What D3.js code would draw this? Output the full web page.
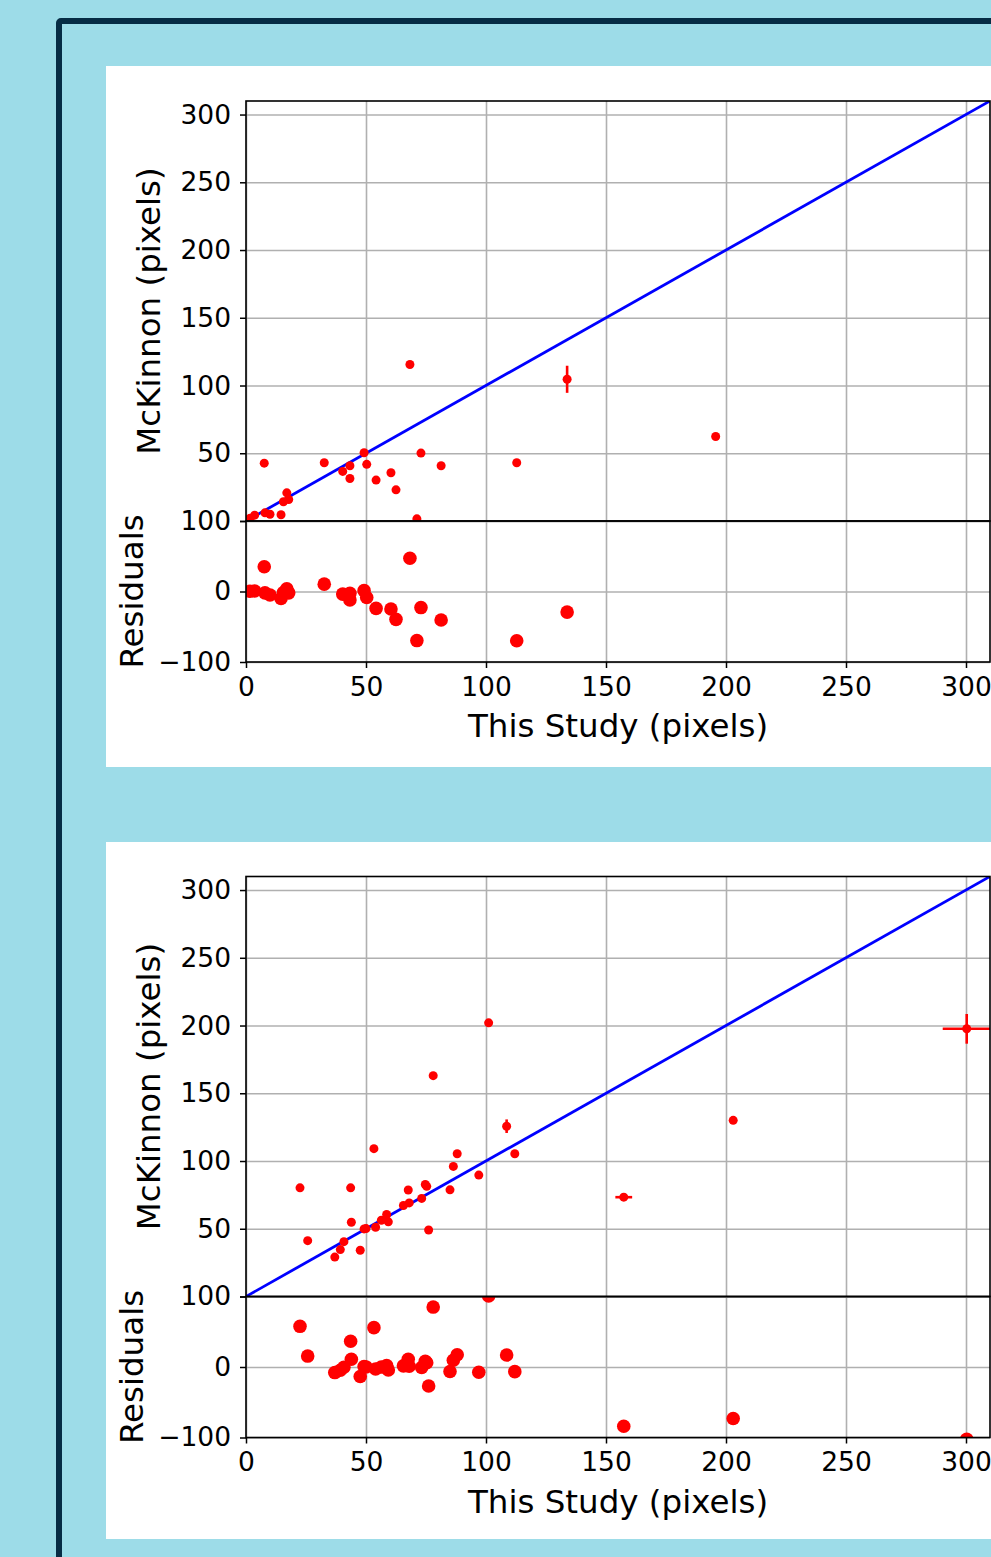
<!DOCTYPE html>
<html>
<head>
<meta charset="utf-8">
<script src="https://cdn.jsdelivr.net/npm/d3@7"></script>
<style>
  body { margin: 0; background: #9ddce8; }
  svg { display: block; font-family: 'DejaVu Sans', sans-serif; }
  .tick text { font-family: 'DejaVu Sans', sans-serif; font-size: 26.5px; fill: #000; }
  .tick line { stroke: #000; stroke-width: 1.5; }
  .grid .tick line { stroke: #b0b0b0; stroke-width: 1.6; }
  .axis-label { font-size: 32.5px; fill: #000; }
</style>
</head>
<body>
<div class="wrapper"></div>
<script>
// top panel: this study vs McKinnon
const x1 = [1.7, 3.6, 7.6, 7.9, 10, 14.6, 15.6, 17, 17.8, 32.6, 40.3, 43.3, 43.3, 49.2, 50.3, 54.2, 60.4, 62.5, 68.3, 71.2, 72.9, 81.3, 112.8, 133.8, 195.7]
const y1 = [2, 4.3, 42.7, 6, 5, 4.6, 14.2, 20.8, 15.9, 43, 36.6, 40.8, 31.4, 50.4, 41.8, 30.2, 35.6, 23, 115.5, 1.6, 50.1, 40.8, 43, 104.6, 62.4]
const res1 = [0.3, 0.7, 35.1, -1.9, -5, -10, -1.4, 3.8, -1.9, 10.4, -3.7, -2.5, -11.9, 1.2, -8.5, -24, -24.8, -39.5, 47.2, -69.6, -22.8, -40.5, -69.8, -29.2, -133.3]
const xerr1 = [0, 0, 0, 0, 0, 0, 0, 0, 0, 0, 0, 0, 0, 0, 0, 0, 0, 0, 0, 0, 0, 0, 0, 0, 0]
const yerr1 = [0, 0, 0, 0, 0, 0, 0, 0, 0, 0, 0, 0, 0, 0, 0, 0, 0, 0, 0, 0, 0, 0, 0, 10, 0]

// bottom panel
const x2 = [22.5, 25.7, 37, 39.3, 40.8, 43.6, 43.9, 47.6, 49.2, 50, 53.3, 54, 56.4, 58.6, 59.3, 65.6, 67.6, 68, 73.2, 74.7, 75.3, 76.1, 78, 85, 86.4, 88, 97, 101.1, 108.6, 112, 157.4, 203, 300.3]
const y2 = [80.2, 41.2, 29.1, 34.6, 40.5, 80.2, 54.8, 34.1, 49.9, 50.1, 109.1, 51.1, 56.3, 60.5, 55.1, 67.2, 78.6, 69.1, 72.4, 82.7, 81.3, 49.1, 163, 78.7, 96, 105.4, 89.6, 202, 125.7, 105.4, 73.3, 130, 197.6]
const res2 = [57.7, 15.5, -7.9, -4.7, -0.3, 36.6, 10.9, -13.5, 0.7, 0.1, 55.8, -2.9, -0.1, 1.9, -4.2, 1.6, 11, 1.1, -0.8, 8, 6, -27, 85, -6.3, 9.6, 17.4, -7.4, 100.9, 17.1, -6.6, -84.1, -73, -102.7]
const xerr2 = [0, 0, 0, 0, 0, 0, 0, 0, 0, 0, 0, 0, 0, 0, 0, 0, 0, 0, 0, 0, 0, 0, 0, 0, 0, 0, 0, 0, 0, 0, 3.5, 0, 10]
const yerr2 = [0, 0, 0, 0, 0, 0, 0, 0, 0, 0, 0, 0, 0, 0, 0, 0, 0, 0, 0, 0, 0, 0, 0, 0, 0, 0, 0, 0, 5, 0, 0, 0, 11]

const xTicks = [0, 50, 100, 150, 200, 250, 300]
const yTicks = [0, 50, 100, 150, 200, 250, 300]
const resTicks = [-100, 0, 100]
const oneToOne = [0, 310]

const W = 991, H = 1557

const svg = d3.select('.wrapper')
  .append('svg')
  .attr('width', W)
  .attr('height', H)

// background frame
svg.append('rect')
  .attr('width', W).attr('height', H)
  .attr('fill', '#9ddce8')
svg.append('rect')
  .attr('x', 59).attr('y', 21)
  .attr('width', W + 20).attr('height', H + 20)
  .attr('rx', 2)
  .attr('fill', 'none')
  .attr('stroke', '#062c44')
  .attr('stroke-width', 6)

const panels = [
  { top: 66, bottom: 767, axTop: 101, xs: x1, ys: y1, res: res1, xe: xerr1, ye: yerr1 },
  { top: 842, bottom: 1539, axTop: 876.5, xs: x2, ys: y2, res: res2, xe: xerr2, ye: yerr2 },
]

panels.forEach((p, i) => drawPanel(p, i))

function drawPanel(p, i) {
  svg.append('rect')
    .attr('x', 106).attr('y', p.top)
    .attr('width', W - 106).attr('height', p.bottom - p.top)
    .attr('fill', '#fff')

  const left = 246, right = 990
  const mainTop = p.axTop, mainBot = p.axTop + 420
  const resTop = mainBot, resBot = mainBot + 141

  const x = d3.scaleLinear().domain([0, 310]).range([left, right])
  const y = d3.scaleLinear().domain([0, 310]).range([mainBot, mainTop])
  const r = d3.scaleLinear().domain([-100, 100]).range([resBot, resTop])

  const clipMain = `clip-main-${i}`, clipRes = `clip-res-${i}`
  const defs = svg.append('defs')
  defs.append('clipPath').attr('id', clipMain).append('rect')
    .attr('x', left).attr('y', mainTop).attr('width', right - left).attr('height', mainBot - mainTop)
  defs.append('clipPath').attr('id', clipRes).append('rect')
    .attr('x', left).attr('y', resTop).attr('width', right - left).attr('height', resBot - resTop)

  // grids
  svg.append('g').attr('class', 'grid')
    .attr('transform', `translate(0,${mainTop})`)
    .call(d3.axisBottom(x).tickValues(xTicks).tickSize(mainBot - mainTop).tickFormat(''))
    .call(g => g.select('.domain').remove())
  svg.append('g').attr('class', 'grid')
    .attr('transform', `translate(${left},0)`)
    .call(d3.axisRight(y).tickValues(yTicks).tickSize(right - left).tickFormat(''))
    .call(g => g.select('.domain').remove())
  svg.append('g').attr('class', 'grid')
    .attr('transform', `translate(0,${resTop})`)
    .call(d3.axisBottom(x).tickValues(xTicks).tickSize(resBot - resTop).tickFormat(''))
    .call(g => g.select('.domain').remove())
  svg.append('g').attr('class', 'grid')
    .attr('transform', `translate(${left},0)`)
    .call(d3.axisRight(r).tickValues(resTicks).tickSize(right - left).tickFormat(''))
    .call(g => g.select('.domain').remove())

  const pts = p.xs.map((v, k) => ({ x: v, y: p.ys[k], r: p.res[k], xe: p.xe[k], ye: p.ye[k] }))

  // main scatter
  const gm = svg.append('g').attr('clip-path', `url(#${clipMain})`)
  gm.append('line')
    .attr('x1', x(oneToOne[0])).attr('y1', y(oneToOne[0]))
    .attr('x2', x(oneToOne[1])).attr('y2', y(oneToOne[1]))
    .attr('stroke', '#0000ff').attr('stroke-width', 2.8)

  gm.selectAll('.yerr').data(pts.filter(d => d.ye > 0)).enter().append('line')
    .attr('x1', d => x(d.x)).attr('x2', d => x(d.x))
    .attr('y1', d => y(d.y - d.ye)).attr('y2', d => y(d.y + d.ye))
    .attr('stroke', 'red').attr('stroke-width', 2.6)
  gm.selectAll('.xerr').data(pts.filter(d => d.xe > 0)).enter().append('line')
    .attr('y1', d => y(d.y)).attr('y2', d => y(d.y))
    .attr('x1', d => x(d.x - d.xe)).attr('x2', d => x(d.x + d.xe))
    .attr('stroke', 'red').attr('stroke-width', 2.6)

  gm.selectAll('circle').data(pts).enter().append('circle')
    .attr('cx', d => x(d.x)).attr('cy', d => y(d.y))
    .attr('r', 4.5).attr('fill', 'red')

  // residuals
  const gr = svg.append('g').attr('clip-path', `url(#${clipRes})`)
  gr.selectAll('circle').data(pts).enter().append('circle')
    .attr('cx', d => x(d.x)).attr('cy', d => r(d.r))
    .attr('r', 6.8).attr('fill', 'red')

  // spines
  svg.append('rect')
    .attr('x', left).attr('y', mainTop).attr('width', right - left).attr('height', mainBot - mainTop)
    .attr('fill', 'none').attr('stroke', '#000').attr('stroke-width', 1.6)
  svg.append('rect')
    .attr('x', left).attr('y', resTop).attr('width', right - left).attr('height', resBot - resTop)
    .attr('fill', 'none').attr('stroke', '#000').attr('stroke-width', 1.6)

  // axes (upper 0 label sits under the residual 100 label, so leave it blank)
  const fmt = d3.format('d')
  svg.append('g')
    .attr('transform', `translate(${left},0)`)
    .call(d3.axisLeft(y).tickValues(yTicks).tickSize(6).tickPadding(9).tickFormat(d => d === 0 ? '' : fmt(d)))
    .call(g => g.select('.domain').remove())
  svg.append('g')
    .attr('transform', `translate(${left},0)`)
    .call(d3.axisLeft(r).tickValues(resTicks).tickSize(6).tickPadding(9).tickFormat(fmt))
    .call(g => g.select('.domain').remove())
  svg.append('g')
    .attr('transform', `translate(0,${resBot})`)
    .call(d3.axisBottom(x).tickValues(xTicks).tickSize(6).tickPadding(9).tickFormat(fmt))
    .call(g => g.select('.domain').remove())
  svg.selectAll('.tick text').attr('font-family', null).attr('font-size', null)

  // labels
  svg.append('text')
    .attr('class', 'axis-label')
    .attr('x', (left + right) / 2).attr('y', resBot + 75)
    .attr('text-anchor', 'middle')
    .text('This Study (pixels)')
  svg.append('text')
    .attr('class', 'axis-label')
    .attr('transform', `translate(160,${(mainTop + mainBot) / 2}) rotate(-90)`)
    .attr('text-anchor', 'middle')
    .text('McKinnon (pixels)')
  svg.append('text')
    .attr('class', 'axis-label')
    .attr('transform', `translate(143,${(resTop + resBot) / 2}) rotate(-90)`)
    .attr('text-anchor', 'middle')
    .text('Residuals')
}
</script>
</body>
</html>
